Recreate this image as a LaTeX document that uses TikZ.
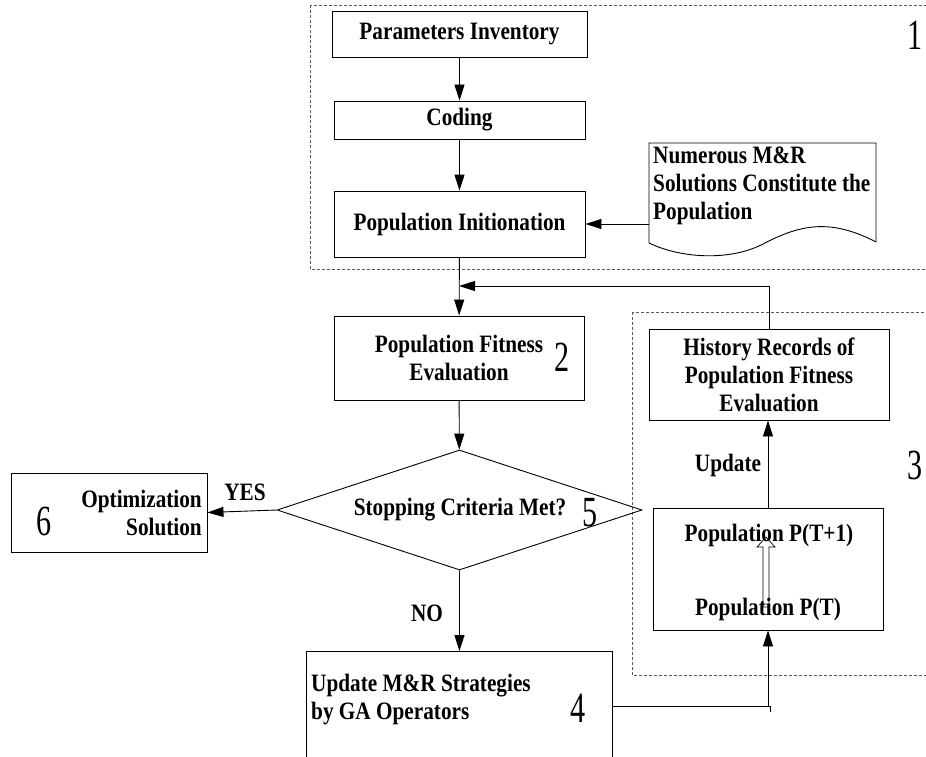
\documentclass[tikz,border=0pt]{standalone}
\usepackage{fontspec}
\setmainfont{Liberation Serif}
\newfontfamily\tbf[FakeStretch=0.85]{Liberation Serif}
\newfontfamily\numf[FakeStretch=0.7]{Liberation Serif}
\usetikzlibrary{arrows.meta,shapes.geometric}
\tikzset{
  box/.style={draw, rectangle, line width=0.9pt, inner sep=0pt},
  lbl/.style={font=\tbf\bfseries\fontsize{25}{28}\selectfont, inner sep=0pt},
  num/.style={font=\numf\fontsize{43}{43}\selectfont, inner sep=0pt},
  arr/.style={-{Triangle[length=16pt,width=10pt]}, line width=0.9pt},
  dashbox/.style={draw=black!65, dash pattern=on 3pt off 2pt, line width=0.8pt},
  plain/.style={line width=0.9pt}
}
\begin{document}
\begin{tikzpicture}[x=1pt,y=-1pt]
\useasboundingbox (0,0) rectangle (926,757);
\clip (0,0) rectangle (926,757);
\fill[white] (0,0) rectangle (926,757);

% dashed groups
\draw[dashbox] (310,5.5) rectangle (940,269);
\draw[dashbox] (632,312) rectangle (940,675);

% block 1
\node[box, lbl, minimum width=255pt, minimum height=46pt] (param) at (459.5,34) {Parameters Inventory};
\node[box, lbl, minimum width=251pt, minimum height=38pt] (coding) at (459.5,120) {Coding};
\node[box, lbl, minimum width=251pt, minimum height=66pt] (popinit) at (459.5,224) {Population Initionation};
\draw[plain] (649,143) -- (876,143) -- (876,242)
  .. controls (830,218) and (800,225) .. (765,243)
  .. controls (730,262) and (680,258) .. (649,243) -- cycle;
\node[lbl, align=left, anchor=north west] (doctext) at (653,147) {Numerous M\&R\\Solutions Constitute the\\Population};
\coordinate (docw) at (649,224);
\node[num] (n1) at (915,35) {1};

% block 2
\node[box, minimum width=250pt, minimum height=84pt] (popfit) at (459,358) {};
\node[lbl, align=center] (popfittext) at (459,358) {Population Fitness\\Evaluation};
\node[num] (n2) at (562,357) {2};

% decision
\node[draw, diamond, line width=0.9pt, inner sep=0pt, minimum width=365pt, minimum height=120pt] (dia) at (459.5,510) {};
\node[lbl] (diatext) at (460,510) {Stopping Criteria Met?};
\node[num] (n5) at (590,513) {5};

% optimization solution
\node[box, minimum width=196pt, minimum height=79pt] (opt) at (109,512.5) {};
\node[lbl, align=right, anchor=east] (opttext) at (202,513) {Optimization\\Solution};
\node[num] (n6) at (44,521) {6};
\node[lbl] (yes) at (245,492) {YES};

% update strategies
\node[box, minimum width=306pt, minimum height=150pt, anchor=north west] (upd) at (306,651) {};
\node[lbl, align=left, anchor=west] (updtext) at (311,700) {Update M\&R Strategies\\by GA Operators};
\node[num] (n4) at (578,708) {4};
\node[lbl] (no) at (427,613) {NO};

% block 3
\node[box, lbl, align=center, minimum width=240pt, minimum height=91pt] (hist) at (769,374.5) {History Records of\\Population Fitness\\Evaluation};
\node[box, minimum width=230pt, minimum height=122pt] (pop) at (768,569) {};
\draw[line width=0.7pt, fill=white] (763,607) -- (763,547) -- (757,547) -- (766,537) -- (775,547) -- (769,547) -- (769,607) -- cycle;
\node[lbl] (ptp1) at (769,535) {Population P(T+1)};
\node[lbl] (pt) at (768,609) {Population P(T)};
\node[lbl] (updlbl) at (728,465) {Update};
\node[num] (n3) at (915,465) {3};

% connectors
\draw[arr] (param) -- (coding);
\draw[arr] (coding) -- (popinit);
\draw[arr] (docw) -- (popinit.east);
\draw[arr] (popinit) -- (popfit);
\coordinate (join) at (459,286);
\draw[arr] (hist.north) |- (join);
\draw[arr] (popfit) -- (dia);
\draw[arr] (dia.west) -- (opt.east);
\draw[arr] (dia.south) -- (upd.north);
\draw[arr] (pop.north) -- (pop.north |- hist.south);
\coordinate (turn) at (768,706);
\draw[plain] (upd.east |- turn) -- (770,706) -- (770,712);
\draw[arr] (turn) -- (pop.south);
\end{tikzpicture}
\end{document}
